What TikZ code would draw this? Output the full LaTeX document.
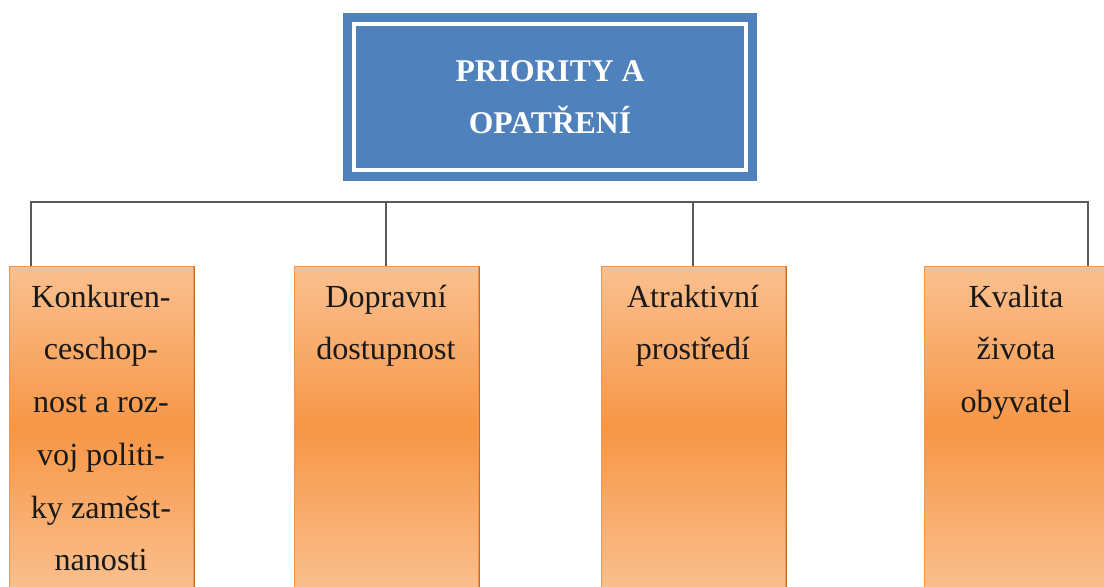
\documentclass[tikz,border=0pt]{standalone}
\usepackage{fontspec}
\setmainfont{LiberationSerif}[Extension=.ttf,UprightFont=*-Regular,BoldFont=*-Bold,ItalicFont=*-Italic,BoldItalicFont=*-BoldItalic]
\usetikzlibrary{shadows}
\definecolor{titleblue}{RGB}{79,129,189}
\definecolor{leaflight}{RGB}{250,192,143}
\definecolor{leafdark}{RGB}{247,150,70}
\definecolor{leafshade}{RGB}{196,106,40}
\definecolor{linkgray}{RGB}{89,89,89}
\newcommand{\leaftext}[1]{\parbox[t][6.52cm][t]{3.68cm}{\centering\rule{0pt}{23.2pt}#1\par}}

\begin{document}
\begin{tikzpicture}[x=0.02cm,y=-0.02cm]
    \tikzstyle{title node}=[rectangle,draw=titleblue,fill=titleblue,double=white,double distance=0.08cm,line width=0.18cm,minimum width=7.84cm,minimum height=2.92cm,align=center,text=white,font=\bfseries\fontsize{18}{29.5}\selectfont]
    \tikzstyle{leaf node}=[rectangle,anchor=north,inner sep=0,draw=leafdark,line width=0.5pt,top color=leaflight,bottom color=leaflight,middle color=leafdark,text=black!90,font=\fontsize{18.3}{30}\selectfont,drop shadow={shadow xshift=1.3pt,shadow yshift=0pt,fill=leafshade,opacity=1}]
    \tikzset{
    link/.style={draw=linkgray,line width=1.1pt}
    }
    \useasboundingbox (0,0) rectangle (1104,587);
    \node[title node] (title) at (550,97) {PRIORITY A\\OPATŘENÍ};
    \node[leaf node] (konk) at (101,266) {\leaftext{Konkuren-\\ceschop-\\nost a roz-\\voj politi-\\ky zaměst-\\nanosti}};
    \node[leaf node] (dopr) at (386,266) {\leaftext{Dopravní\\dostupnost}};
    \node[leaf node] (atr) at (693,266) {\leaftext{Atraktivní\\prostředí}};
    \node[leaf node] (kval) at (1016,266) {\leaftext{Kvalita\\života\\obyvatel}};
    \coordinate (barL) at (31,202);
    \coordinate (barR) at (1088,202);
    \draw[link] (konk.north -| barL) -- (barL) -- (barR) -- (kval.north -| barR);
    \draw[link] (dopr.north) -- (dopr.north |- barL);
    \draw[link] (atr.north) -- (atr.north |- barL);
\end{tikzpicture}
\end{document}
